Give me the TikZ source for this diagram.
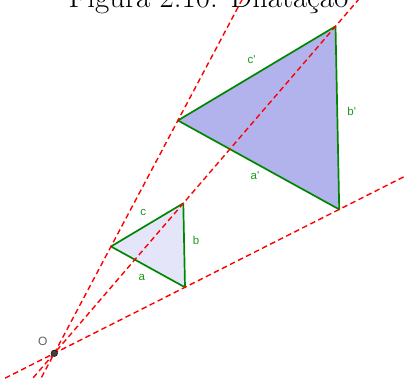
\documentclass[tikz,border=0pt]{standalone}
\usepackage{fontspec}
\newfontfamily\geofont{Liberation Sans}
\usetikzlibrary{calc}
\definecolor{edgegreen}{RGB}{0,135,0}
\definecolor{lblgreen}{RGB}{30,150,30}
\definecolor{bigfill}{RGB}{178,178,236}
\definecolor{smallfill}{RGB}{229,229,250}
\definecolor{ptgray}{RGB}{95,95,95}

\begin{document}
\begin{tikzpicture}[x=1pt,y=-1pt,
    ray/.style={red, dash pattern=on 5.5pt off 3.5pt, line width=1.4pt},
    side/.style={edgegreen, line width=1.7pt, line join=round},
    lbl/.style={lblgreen, font=\geofont\fontsize{11.5}{13}\selectfont}]
                \clip (0,0) rectangle (405,379);
                \node[anchor=base] (title) at (208.5,8) {\fontsize{31}{31}\selectfont Figura 2.10: Dilatação};

                \coordinate (O) at (54.3,353.3);
                \coordinate (A) at (111,246.5);
                \coordinate (B) at (183.3,203.3);
                \coordinate (C) at (185,287.3);
                \coordinate (A1) at ($(O)!2.18!(A)$);
                \coordinate (B1) at ($(O)!2.18!(B)$);
                \coordinate (C1) at ($(O)!2.18!(C)$);

                \fill[smallfill] (A) -- (B) -- (C) -- cycle;
                \fill[bigfill] (A1) -- (B1) -- (C1) -- cycle;
                \draw[side] (A) -- (B) -- (C) -- cycle;
                \draw[side] (A1) -- (B1) -- (C1) -- cycle;

                \draw[ray] ($(O)!-0.3!(A)$) -- ($(O)!3.5!(A)$);
                \draw[ray] ($(O)!-0.3!(B)$) -- ($(O)!2.6!(B)$);
                \draw[ray] ($(O)!-0.5!(C)$) -- ($(O)!2.9!(C)$);

                \fill[black!75, draw=black, line width=0.4pt] (O) circle (3.3);
                \node[ptgray, font=\geofont\fontsize{12}{14}\selectfont] (lO) at (42.7,341.5) {O};

                \node[lbl] (la) at (141.7,277.3) {a};
                \node[lbl] (lb) at (196,240.7) {b};
                \node[lbl] (lc) at (143.3,212.7) {c};
                \node[lbl] (la1) at (255,176) {a'};
                \node[lbl] (lb1) at (351.7,111.7) {b'};
                \node[lbl] (lc1) at (251.7,59.3) {c'};
            \end{tikzpicture}
\end{document}
